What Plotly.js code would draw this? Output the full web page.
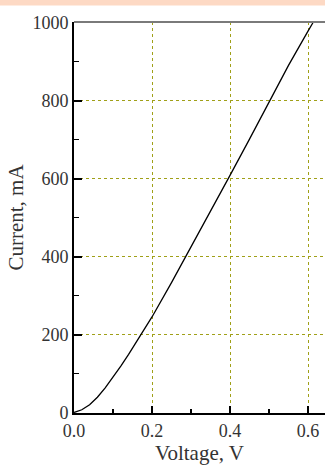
<!DOCTYPE html>
<html>
<head>
<meta charset="utf-8">
<script src="https://cdn.plot.ly/plotly-3.0.1.min.js"></script>
<style>
  html, body { margin: 0; padding: 0; background: #fff; overflow: hidden; }
  #div_plot { width: 325px; height: 469px; }
</style>
</head>
<body>
<div id="div_plot"></div>
<script>
// I-V curve, values
var voltage = [0, 0.02, 0.04, 0.06, 0.08, 0.10, 0.12, 0.14, 0.16, 0.18, 0.20,
               0.25, 0.30, 0.35, 0.40, 0.45, 0.50, 0.55, 0.60, 0.613];
var current = [0, 7, 20, 39, 63, 90, 119, 149, 180, 212, 245,
               333, 424, 516, 608, 701, 796, 890, 978, 1000];

var x_ticks = [0, 0.2, 0.4, 0.6];
var x_labels = ["0.0", "0.2", "0.4", "0.6"];
var x_minor = [0.1, 0.3, 0.5];
var y_ticks = [0, 200, 400, 600, 800, 1000];
var y_labels = ["0", "200", "400", "600", "800", "1000"];
var y_minor = [100, 300, 500, 700, 900];

// half a pixel of slack on each end keeps the dotted grid on the pixel grid
var x_range = [0, 0.6436];
var y_range = [-1.282, 1001.282];

function plot_graph(){

   var grid_color = '#a0a018';
   var tick_font = {family: 'Liberation Serif', size: 18, color: '#333333'};
   var title_font = {family: 'Liberation Serif', size: 21, color: '#333333'};

   var trace = {
      x: voltage,
      y: current,
      mode: 'lines',
      type: 'scatter',
      line: {
         color: '#000000',
         width: 1.3
      },
      hoverinfo: 'skip'
   };

   // empty trace so the overlay axes (minor ticks) get drawn
   var trace_minor = {
      x: [],
      y: [],
      xaxis: 'x2',
      yaxis: 'y2',
      mode: 'lines',
      type: 'scatter',
      hoverinfo: 'skip'
   };

   var layout = {
      width: 325,
      height: 469,
      showlegend: false,
      paper_bgcolor: '#ffffff',
      plot_bgcolor: '#ffffff',
      margin: {l: 74, r: 0, t: 22, b: 56},
      font: tick_font,
      xaxis: {
         range: x_range,
         tickmode: 'array',
         tickvals: x_ticks,
         ticktext: x_labels,
         tickfont: tick_font,
         ticks: 'inside',
         ticklen: 7,
         tickwidth: 2,
         tickcolor: '#000000',
         showline: true,
         linecolor: '#000000',
         linewidth: 2,
         zeroline: false,
         showgrid: true,
         gridcolor: grid_color,
         griddash: 'dot',
         gridwidth: 1,
         title: {text: 'Voltage, V', font: title_font, standoff: 3}
      },
      yaxis: {
         range: y_range,
         tickmode: 'array',
         tickvals: y_ticks,
         ticktext: y_labels,
         tickfont: tick_font,
         ticks: 'inside',
         ticklen: 8,
         tickwidth: 2,
         tickcolor: '#000000',
         showline: true,
         linecolor: '#000000',
         linewidth: 2,
         zeroline: false,
         showgrid: true,
         gridcolor: grid_color,
         griddash: 'dot',
         gridwidth: 1,
         title: {text: 'Current, mA', font: title_font, standoff: 3}
      },
      xaxis2: {
         overlaying: 'x',
         anchor: 'y',
         side: 'bottom',
         range: x_range,
         tickmode: 'array',
         tickvals: x_minor,
         showticklabels: false,
         ticks: 'inside',
         ticklen: 4,
         tickwidth: 1.5,
         tickcolor: '#000000',
         showline: false,
         showgrid: false,
         zeroline: false
      },
      yaxis2: {
         overlaying: 'y',
         anchor: 'x',
         side: 'left',
         range: y_range,
         tickmode: 'array',
         tickvals: y_minor,
         showticklabels: false,
         ticks: 'inside',
         ticklen: 5,
         tickwidth: 1.5,
         tickcolor: '#000000',
         showline: false,
         showgrid: false,
         zeroline: false
      },
      shapes: [
         // grey frame line on top
         {type: 'line', xref: 'paper', yref: 'paper', x0: 0, x1: 1, y0: 1, y1: 1,
          line: {color: '#7a7a7a', width: 2}},
         // peach band at the very top of the picture
         {type: 'rect', xref: 'paper', yref: 'paper', x0: -0.3, x1: 1.01, y0: 1.0422, y1: 1.06,
          fillcolor: '#fdd9c4', line: {width: 0}, layer: 'below'}
      ]
   };

   var config = {
      responsive: false,
      displayModeBar: false,
      staticPlot: true
   };

   Plotly.newPlot('div_plot', [trace, trace_minor], layout, config);
}

plot_graph();
</script>
</body>
</html>
